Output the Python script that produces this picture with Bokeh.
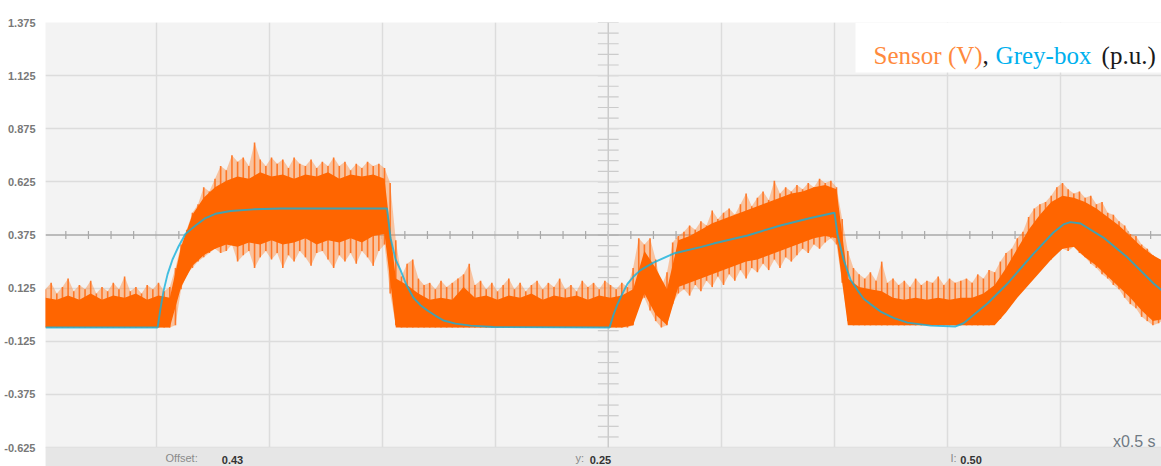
import numpy as np
from bokeh.plotting import figure
from bokeh.models import FixedTicker, Span, BoxAnnotation, Label, Range1d
from bokeh.embed import file_html
from bokeh.resources import INLINE

# ---------------------------------------------------------------- axis setup
y_ticks = [-0.625, -0.375, -0.125, 0.125, 0.375, 0.625, 0.875, 1.125, 1.375]
y_tick_labels = ["-0.625", "-0.375", "-0.125", "0.125", "0.375", "0.625",
                 "0.875", "1.125", "1.375"]
time_divisions = [0.5, 1.0, 1.5, 2.0, 2.5, 3.0, 3.5, 4.0, 4.5]   # 0.5 s / div
center_time = 2.5
center_level = 0.375

# ---------------------------------------------------------------- sensor trace
# Envelope of the noisy sensor voltage (V).
# Outer envelope (spike extremes), sampled every 25 ms from t = 0.01 s.
SPIKE_START, SPIKE_STEP = 0.01, 0.025
spike_hi = [
    0.12, 0.15, 0.10, 0.13, 0.17, 0.11, 0.14, 0.12, 0.16, 0.10, 0.13, 0.11,
    0.15, 0.12, 0.18, 0.11, 0.13, 0.10, 0.14, 0.12, 0.15, 0.11, 0.13,
    0.22, 0.33, 0.40, 0.48, 0.52, 0.60, 0.58, 0.64, 0.70, 0.68, 0.75, 0.72,
    0.74, 0.70, 0.81, 0.73, 0.70, 0.74, 0.71, 0.73, 0.69, 0.74, 0.71, 0.70,
    0.73, 0.69, 0.72, 0.70, 0.74, 0.70, 0.72, 0.68, 0.71, 0.69, 0.72, 0.70,
    0.71, 0.69,
    0.62, 0.35, 0.18, 0.24, 0.26, 0.17, 0.14, 0.15, 0.12, 0.16, 0.13, 0.15,
    0.17, 0.19, 0.24, 0.14, 0.16,
    0.12, 0.15, 0.11, 0.14, 0.17, 0.12, 0.15, 0.11, 0.14, 0.16, 0.12, 0.15,
    0.13, 0.17, 0.12, 0.14, 0.11, 0.16, 0.13, 0.15, 0.12, 0.16, 0.14, 0.12,
    0.15, 0.13,
    0.22, 0.36, 0.33, 0.36, 0.26, 0.13, 0.20, 0.34, 0.37, 0.39, 0.42, 0.40,
    0.44, 0.42, 0.49, 0.45, 0.48, 0.50, 0.47, 0.52, 0.57, 0.51, 0.55, 0.58,
    0.54, 0.63, 0.57, 0.60, 0.58, 0.61, 0.59, 0.62, 0.60, 0.64, 0.62, 0.63,
    0.60,
    0.45, 0.30, 0.22, 0.19, 0.17, 0.20, 0.16, 0.25, 0.15, 0.17, 0.14, 0.16,
    0.13, 0.17, 0.14, 0.16, 0.15, 0.18, 0.14, 0.17, 0.15, 0.16, 0.17, 0.15,
    0.19, 0.17, 0.21,
    0.20, 0.25, 0.29, 0.31, 0.36, 0.39, 0.46, 0.50, 0.52, 0.53, 0.56, 0.60,
    0.62, 0.59, 0.57, 0.58, 0.55, 0.56, 0.52, 0.53, 0.48, 0.47, 0.44, 0.42,
    0.38, 0.37, 0.33, 0.31, 0.28, 0.26, 0.24,
]
spike_lo = [
    -0.06, -0.06, -0.06, -0.06, -0.06, -0.06, -0.06, -0.06, -0.06, -0.06,
    -0.06, -0.06, -0.06, -0.06, -0.06, -0.06, -0.06, -0.06, -0.06, -0.06,
    -0.06, -0.06, -0.06,
    -0.05, 0.12, 0.19, 0.22, 0.25, 0.27, 0.29, 0.31, 0.29, 0.30, 0.33, 0.25,
    0.28, 0.30, 0.22, 0.27, 0.30, 0.26, 0.29, 0.22, 0.28, 0.25, 0.30, 0.27,
    0.23, 0.29, 0.30, 0.26, 0.22, 0.28, 0.25, 0.29, 0.24, 0.30, 0.27, 0.23,
    0.30, 0.33,
    0.10, -0.05, -0.06, -0.06, -0.06, -0.06, -0.06, -0.06, -0.06, -0.06,
    -0.06, -0.06, -0.06, -0.06, -0.06, -0.06, -0.06,
    -0.06, -0.06, -0.06, -0.06, -0.06, -0.06, -0.06, -0.06, -0.06, -0.06,
    -0.06, -0.06, -0.06, -0.06, -0.06, -0.06, -0.06, -0.06, -0.06, -0.06,
    -0.06, -0.06, -0.06, -0.06, -0.06, -0.06,
    -0.05, 0.06, 0.08, 0.02, -0.03, -0.06, -0.05, 0.05, 0.10, 0.12, 0.09,
    0.14, 0.11, 0.16, 0.13, 0.18, 0.14, 0.19, 0.16, 0.21, 0.17, 0.22, 0.20,
    0.24, 0.21, 0.26, 0.22, 0.27, 0.25, 0.28, 0.31, 0.29, 0.33, 0.31, 0.34,
    0.36, 0.33,
    0.15, -0.03, -0.05, -0.05, -0.05, -0.05, -0.05, -0.05, -0.05, -0.05,
    -0.05, -0.05, -0.05, -0.05, -0.05, -0.05, -0.05, -0.05, -0.05, -0.05,
    -0.05, -0.05, -0.05, -0.05, -0.05, -0.05, -0.05,
    -0.04, -0.02, 0.03, 0.06, 0.09, 0.12, 0.15, 0.18, 0.21, 0.24, 0.26, 0.29,
    0.31, 0.30, 0.32, 0.29, 0.27, 0.24, 0.22, 0.19, 0.17, 0.14, 0.12, 0.08,
    0.05, 0.03, -0.01, -0.03, -0.05, -0.04, -0.02,
]

# Dense core of the trace, sampled every 50 ms from t = 0.01 s.
CORE_START, CORE_STEP = 0.01, 0.05
core_hi = [
    0.08, 0.07, 0.09, 0.07, 0.10, 0.07, 0.09, 0.08, 0.10, 0.07, 0.09, 0.08,
    0.32, 0.47, 0.55, 0.60, 0.63, 0.65, 0.64, 0.67, 0.65, 0.66, 0.64, 0.66,
    0.65, 0.67, 0.64, 0.66, 0.65, 0.66, 0.64,
    0.17, 0.14, 0.10, 0.07, 0.08, 0.07, 0.13, 0.08, 0.09, 0.07, 0.09, 0.08,
    0.10, 0.07, 0.09, 0.08, 0.09, 0.07, 0.09, 0.08, 0.09,
    0.12, 0.30, 0.22, 0.12, 0.35, 0.37, 0.40, 0.43, 0.45, 0.47, 0.49, 0.51,
    0.53, 0.55, 0.57, 0.58, 0.60, 0.61, 0.59,
    0.17, 0.13, 0.12, 0.11, 0.08, 0.07, 0.08, 0.07, 0.08, 0.07, 0.08, 0.08,
    0.10, 0.14, 0.22, 0.31, 0.40, 0.47, 0.53, 0.56, 0.55, 0.53, 0.50, 0.46,
    0.42, 0.37, 0.32, 0.28, 0.25,
]
core_lo = [
    -0.06, -0.06, -0.06, -0.06, -0.06, -0.06, -0.06, -0.06, -0.06, -0.06,
    -0.06, -0.06,
    0.13, 0.23, 0.28, 0.31, 0.33, 0.32, 0.34, 0.33, 0.35, 0.33, 0.34, 0.36,
    0.33, 0.35, 0.34, 0.36, 0.34, 0.37, 0.38,
    -0.06, -0.06, -0.06, -0.06, -0.06, -0.06, -0.06, -0.06, -0.06, -0.06,
    -0.06, -0.06, -0.06, -0.06, -0.06, -0.06, -0.06, -0.06, -0.06, -0.06,
    -0.06,
    -0.05, 0.10, 0.00, -0.05, 0.13, 0.15, 0.17, 0.19, 0.21, 0.23, 0.25, 0.26,
    0.28, 0.30, 0.32, 0.34, 0.36, 0.37, 0.36,
    -0.05, -0.05, -0.05, -0.05, -0.05, -0.05, -0.05, -0.05, -0.05, -0.05,
    -0.05, -0.05,
    -0.05, -0.05, 0.01, 0.08, 0.14, 0.20, 0.26, 0.31, 0.32, 0.27, 0.23, 0.18,
    0.13, 0.08, 0.02, -0.03, -0.02,
]

# ---------------------------------------------------------------- grey-box model
model_t = [
    0.010, 0.506, 0.519, 0.532, 0.550, 0.572, 0.598, 0.629, 0.674, 0.718,
    0.762, 0.829, 0.930, 1.050, 1.521, 1.537, 1.559, 1.581, 1.607, 1.638,
    1.669, 1.700, 1.736, 1.771, 1.824, 1.891, 1.992, 2.506, 2.523, 2.541,
    2.563, 2.585, 2.612, 2.643, 2.700, 2.789, 2.908, 2.966, 3.116, 3.262,
    3.395, 3.501, 3.514, 3.541, 3.572, 3.603, 3.630, 3.660, 3.705, 3.762,
    3.824, 3.926, 4.037, 4.072, 4.103, 4.178, 4.267, 4.382, 4.470, 4.514,
    4.545, 4.590, 4.691, 4.798, 4.913, 4.988,
]
model_v = [
    -0.060, -0.060, 0.030, 0.110, 0.190, 0.260, 0.320, 0.380, 0.420, 0.455,
    0.475, 0.488, 0.496, 0.500, 0.500, 0.360, 0.260, 0.210, 0.140, 0.080,
    0.045, 0.020, -0.005, -0.027, -0.042, -0.051, -0.058, -0.060, 0.000, 0.050,
    0.100, 0.145, 0.180, 0.210, 0.245, 0.288, 0.318, 0.335, 0.373, 0.420,
    0.455, 0.480, 0.380, 0.260, 0.165, 0.115, 0.075, 0.050, 0.015, -0.015,
    -0.037, -0.051, -0.055, -0.040, -0.013, 0.053, 0.147, 0.288, 0.387, 0.425,
    0.436, 0.429, 0.363, 0.269, 0.147, 0.080,
]

spike_t = SPIKE_START + SPIKE_STEP * np.arange(len(spike_hi))
core_t = CORE_START + CORE_STEP * np.arange(len(core_hi))

# ---------------------------------------------------------------- figure
p = figure(
    width=1161, height=466,
    x_range=Range1d(0.01, 4.948), y_range=Range1d(-0.714, 1.375),
    output_backend="svg", toolbar_location=None, title=None,
    x_axis_location=None, y_axis_location="left",
    min_border_left=45, min_border_right=0, min_border_top=22,
    min_border_bottom=0,
    background_fill_color="#f3f3f3", border_fill_color="white",
    outline_line_color=None,
)

# graticule
p.ygrid.ticker = FixedTicker(ticks=[v for v in y_ticks if v != center_level])
p.xgrid.ticker = FixedTicker(ticks=[t for t in time_divisions if t != center_time])
for g in (p.xgrid, p.ygrid):
    g.grid_line_color = "#dcdcdc"
    g.grid_line_width = 1.5

p.add_layout(Span(location=center_level, dimension="width",
                  line_color="#a8a8a8", line_width=1.5, level="underlay"))
p.add_layout(Span(location=center_time, dimension="height",
                  line_color="#cbcbcb", line_width=1.5, level="underlay"))

# sub-division ticks on the centre cross (5 per division)
sub_t = np.arange(0.1, 4.95, 0.1)
p.segment(x0=sub_t, x1=sub_t, y0=center_level - 0.019, y1=center_level + 0.019,
          line_color="#a8a8a8", line_width=1.2, level="underlay")
sub_v = np.arange(-0.625, 1.376, 0.05)
p.segment(x0=center_time - 0.046, x1=center_time + 0.046, y0=sub_v, y1=sub_v,
          line_color="#cbcbcb", line_width=1.2, level="underlay")

# y axis
ax = p.yaxis[0]
ax.ticker = FixedTicker(ticks=y_ticks)
ax.major_label_overrides = {v: s for v, s in zip(y_ticks, y_tick_labels)}
ax.axis_line_color = None
ax.major_tick_line_color = None
ax.minor_tick_line_color = None
ax.major_label_standoff = 4
ax.major_label_text_font = "Liberation Sans"
ax.major_label_text_font_size = "11px"
ax.major_label_text_font_style = "bold"
ax.major_label_text_color = "#787878"

# sensor trace: faint spike envelope, individual spikes, dense core
p.varea(x=spike_t, y1=spike_lo, y2=spike_hi, fill_color="#ff8a3c", fill_alpha=0.45)
p.segment(x0=spike_t, x1=spike_t, y0=spike_lo, y1=spike_hi,
          line_color="#ff6a10", line_width=1.6, line_alpha=0.85)
p.varea(x=core_t, y1=core_lo, y2=core_hi, fill_color="#ff6500", fill_alpha=1.0)

# grey-box model
p.line(model_t, model_v, line_color="#14b0dc", line_width=1.9, line_alpha=0.8)

# status bar and caption box
p.add_layout(BoxAnnotation(top=-0.625, fill_color="#e6e6e6", fill_alpha=1.0,
                           line_color=None))
p.add_layout(BoxAnnotation(left=3.594, bottom=1.14, fill_color="white",
                           fill_alpha=1.0, line_color=None))

caption_y = 1.22
for x, txt, col in [(3.674, "Sensor (V)", "#ff8a3d"), (4.156, ",", "#1a1a1a"),
                    (4.214, "Grey-box", "#00b0ee"), (4.683, "(p.u.)", "#1a1a1a")]:
    p.add_layout(Label(x=x, y=caption_y, text=txt, text_color=col,
                       text_font="Liberation Serif", text_font_size="25px",
                       text_baseline="alphabetic", text_align="left"))

p.add_layout(Label(x=4.733, y=-0.597, text="x0.5 s", text_color="#707a84",
                   text_font="Liberation Sans", text_font_size="16px",
                   text_baseline="alphabetic"))

status_y = -0.702
for x, txt, col, style in [(0.541, "Offset:", "#8a8a8a", "normal"),
                           (0.790, "0.43", "#333333", "bold"),
                           (2.355, "y:", "#8a8a8a", "normal"),
                           (2.418, "0.25", "#333333", "bold"),
                           (4.014, "I:", "#8a8a8a", "normal"),
                           (4.058, "0.50", "#333333", "bold")]:
    p.add_layout(Label(x=x, y=status_y, text=txt, text_color=col,
                       text_font="Liberation Sans", text_font_size="11px",
                       text_font_style=style, text_baseline="bottom"))

open("out.html", "w").write(file_html(p, INLINE))
